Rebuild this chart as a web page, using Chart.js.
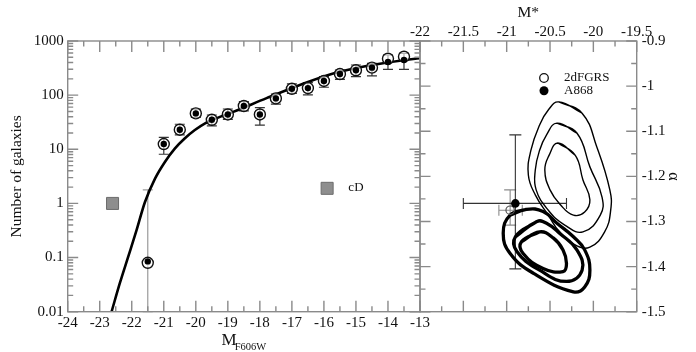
<!DOCTYPE html>
<html>
<head>
<meta charset="utf-8">
<script src="https://cdn.jsdelivr.net/npm/chart.js@4.4.1/dist/chart.umd.min.js"></script>
<style>
    html, body { margin: 0; padding: 0; background: #fff; }
    #wrap { position: relative; width: 696px; height: 352px; }
    canvas { position: absolute; left: 0; top: 0; }
</style>
</head>
<body>
<div id="wrap">
    <canvas id="lfChart" width="696" height="352"></canvas>
    <canvas id="paramChart" width="696" height="352"></canvas>
</div>
<script>
// ---- left panel: luminosity function ----
const magBins = [-21.5, -21, -20.5, -20, -19.5, -19, -18.5, -18, -17.5, -17, -16.5, -16, -15.5, -15, -14.5, -14, -13.5];
const countsOpen = [0.08, 12.5, 23, 46, 35, 44, 63, 44, 87, 131, 135, 183, 245, 288, 322, 470, 513];
const countsFilled = [0.085, 12.5, 23, 46, 35, 44, 63, 44, 87, 131, 135, 183, 245, 288, 322, 409, 445];
const errLow = [0.01, 8.1, 18.4, 38.6, 27, 35.8, 51, 28, 68.5, 108, 101, 140, 196, 219, 226, 300, 300];
const errHigh = [1.78, 16.6, 29, 55, 43, 55.5, 75.7, 58.6, 105, 161, 170, 219, 291, 360, 387, 551, 592];

const fitMag = [-22.63, -22.37, -22.11, -21.85, -21.59, -21.27, -20.96, -20.65, -20.34, -20.03, -19.71, -19.45, -18.83, -17.79, -16.75, -15.71, -14.67, -13.63, -13.0];
const fitCounts = [0.01, 0.034, 0.104, 0.32, 1.05, 2.9, 5.9, 10.4, 16.0, 22.7, 30.2, 35.5, 49, 88, 154, 251, 345, 433, 479];

const cdMag = [-22.6, -15.9];
const cdCounts = [1.0, 1.9];
const cdLabel = 'cD';
const cdLabelPos = [-15.0, 1.95];

const magTicks = [-24, -23, -22, -21, -20, -19, -18, -17, -16, -15, -14, -13];
const magMinor = [-23.5, -22.5, -21.5, -20.5, -19.5, -18.5, -17.5, -16.5, -15.5, -14.5, -13.5];
const countTicks = [0.01, 0.1, 1, 10, 100, 1000];
const countMinor = [];
[0.01, 0.1, 1, 10, 100].forEach(d => { for (let k = 2; k <= 9; k++) countMinor.push(d * k); });

// ---- right panel: M* / alpha confidence contours ----
const thinOuterM = [-20.40, -20.13, -19.96, -19.81, -19.80, -19.87, -20.04, -20.21, -20.39, -20.52, -20.67, -20.75, -20.72, -20.62, -20.52];
const thinOuterA = [-1.035, -1.060, -1.135, -1.230, -1.275, -1.323, -1.357, -1.352, -1.323, -1.286, -1.241, -1.197, -1.142, -1.086, -1.053];
const thinMidM = [-20.42, -20.19, -20.04, -19.90, -19.92, -20.12, -20.33, -20.52, -20.66, -20.67, -20.62, -20.54];
const thinMidA = [-1.082, -1.104, -1.179, -1.246, -1.286, -1.323, -1.308, -1.275, -1.230, -1.186, -1.142, -1.108];
const thinInnerM = [-20.41, -20.21, -20.12, -20.04, -20.10, -20.23, -20.38, -20.50, -20.56, -20.51];
const thinInnerA = [-1.126, -1.153, -1.208, -1.252, -1.279, -1.286, -1.263, -1.230, -1.186, -1.153];

const thickOuterM = [-20.77, -20.96, -21.04, -20.96, -20.69, -20.23, -20.10, -20.04, -20.10, -20.23, -20.42, -20.58];
const thickOuterA = [-1.273, -1.286, -1.326, -1.371, -1.415, -1.456, -1.445, -1.408, -1.363, -1.334, -1.304, -1.278];
const thickMidM = [-20.65, -20.90, -20.88, -20.62, -20.31, -20.13, -20.19, -20.39, -20.54];
const thickMidA = [-1.300, -1.334, -1.367, -1.408, -1.433, -1.408, -1.363, -1.326, -1.304];
const thickInnerM = [-20.62, -20.83, -20.81, -20.58, -20.35, -20.31, -20.35, -20.46];
const thickInnerA = [-1.323, -1.345, -1.371, -1.404, -1.411, -1.393, -1.363, -1.337];

const seriesNames = ['2dFGRS', 'A868'];
const fitMstar = [-20.96, -20.90];
const fitAlpha = [-1.275, -1.26];
const mstarErr = [[-21.09, -20.82], [-21.5, -20.31]];
const alphaErr = [[-1.23, -1.308], [-1.108, -1.405]];

const mstarTicks = [-22, -21.5, -21, -20.5, -20, -19.5];
const mstarMinor = [-21.75, -21.25, -20.75, -20.25, -19.75];
const alphaTicks = [-0.9, -1, -1.1, -1.2, -1.3, -1.4, -1.5];
const alphaMinor = [-0.95, -1.05, -1.15, -1.25, -1.35, -1.45];

// ---- styling ----
const FONT = "'Liberation Serif', 'Times New Roman', serif";
const TEXT = '#111';
const FRAME = '#8a8a8a';

const pts = (xs, ys) => xs.map((v, i) => ({ x: v, y: ys[i] }));
const loop = (xs, ys) => { const p = pts(xs, ys); return p.concat([p[0], p[1]]); };

function frameTicks(id, xMajor, xMinor, yMajor, yMinor) {
    return {
        id: id,
        afterDraw(chart) {
            const { ctx, chartArea: a } = chart;
            const xs = chart.scales.x, ys = chart.scales.y;
            ctx.save();
            ctx.strokeStyle = FRAME;
            ctx.lineWidth = 1.4;
            ctx.strokeRect(a.left, a.top, a.right - a.left, a.bottom - a.top);
            ctx.beginPath();
            const xt = (v, len) => {
                const p = xs.getPixelForValue(v);
                ctx.moveTo(p, a.bottom); ctx.lineTo(p, a.bottom - len);
                ctx.moveTo(p, a.top); ctx.lineTo(p, a.top + len);
            };
            const yt = (v, len) => {
                const p = ys.getPixelForValue(v);
                ctx.moveTo(a.left, p); ctx.lineTo(a.left + len, p);
                ctx.moveTo(a.right, p); ctx.lineTo(a.right - len, p);
            };
            xMajor.forEach(v => xt(v, 11));
            xMinor.forEach(v => xt(v, 5.5));
            yMajor.forEach(v => yt(v, 10.5));
            yMinor.forEach(v => yt(v, 5.5));
            ctx.stroke();
            ctx.restore();
        }
    };
}

function vBar(ctx, x, y1, y2, cap) {
    ctx.moveTo(x, y1); ctx.lineTo(x, y2);
    ctx.moveTo(x - cap, y1); ctx.lineTo(x + cap, y1);
    ctx.moveTo(x - cap, y2); ctx.lineTo(x + cap, y2);
}
function hBar(ctx, y, x1, x2, cap) {
    ctx.moveTo(x1, y); ctx.lineTo(x2, y);
    ctx.moveTo(x1, y - cap); ctx.lineTo(x1, y + cap);
    ctx.moveTo(x2, y - cap); ctx.lineTo(x2, y + cap);
}

const lfExtras = {
    id: 'lfExtras',
    beforeDatasetsDraw(chart) {
        const { ctx, scales: { x, y } } = chart;
        ctx.save();
        ctx.lineWidth = 1.2;
        magBins.forEach((m, i) => {
            ctx.strokeStyle = i === 0 ? '#9a9a9a' : '#333';
            ctx.beginPath();
            vBar(ctx, x.getPixelForValue(m), y.getPixelForValue(errLow[i]), y.getPixelForValue(errHigh[i]), 5);
            ctx.stroke();
        });
        ctx.restore();
    },
    afterDraw(chart) {
        const { ctx, chartArea: a, scales: { x, y } } = chart;
        ctx.save();
        ctx.fillStyle = TEXT;
        ctx.textBaseline = 'middle';
        ctx.textAlign = 'center';
        ctx.font = '13px ' + FONT;
        ctx.fillText(cdLabel, x.getPixelForValue(cdLabelPos[0]), y.getPixelForValue(cdLabelPos[1]));
        // axis title with subscript
        ctx.textBaseline = 'alphabetic';
        ctx.textAlign = 'left';
        ctx.font = '17px ' + FONT;
        const wM = ctx.measureText('M').width;
        ctx.font = '10.5px ' + FONT;
        const wS = ctx.measureText('F606W').width;
        const x0 = (a.left + a.right) / 2 - (wM + wS - 2) / 2;
        ctx.font = '17px ' + FONT;
        ctx.fillText('M', x0, a.bottom + 33.5);
        ctx.font = '10.5px ' + FONT;
        ctx.fillText('F606W', x0 + wM - 2, a.bottom + 38.5);
        ctx.restore();
    }
};

const paramExtras = {
    id: 'paramExtras',
    beforeDatasetsDraw(chart) {
        const { ctx, scales: { x, y } } = chart;
        ctx.save();
        ctx.lineWidth = 1.1;
        [0, 1].forEach(i => {
            ctx.strokeStyle = i === 0 ? '#8a8a8a' : '#333';
            ctx.beginPath();
            hBar(ctx, y.getPixelForValue(fitAlpha[i]), x.getPixelForValue(mstarErr[i][0]), x.getPixelForValue(mstarErr[i][1]), 5.5);
            vBar(ctx, x.getPixelForValue(fitMstar[i]), y.getPixelForValue(alphaErr[i][0]), y.getPixelForValue(alphaErr[i][1]), 6);
            ctx.stroke();
        });
        ctx.restore();
    },
    afterDraw(chart) {
        const { ctx, chartArea: a } = chart;
        ctx.save();
        const lx = a.left + 124, ly = a.top + 37;
        ctx.lineWidth = 1.3;
        ctx.strokeStyle = '#111';
        ctx.fillStyle = '#fff';
        ctx.beginPath(); ctx.arc(lx, ly, 4.3, 0, Math.PI * 2); ctx.fill(); ctx.stroke();
        ctx.fillStyle = '#000';
        ctx.beginPath(); ctx.arc(lx, ly + 12.7, 4.5, 0, Math.PI * 2); ctx.fill();
        ctx.fillStyle = TEXT;
        ctx.font = '13px ' + FONT;
        ctx.textBaseline = 'middle';
        ctx.fillText(seriesNames[0], lx + 20, ly);
        ctx.fillText(seriesNames[1], lx + 20, ly + 12.7);
        ctx.restore();
    }
};

const tickFont = { family: FONT, size: 15 };
const noGrid = { display: false, drawTicks: false };
const fixTicks = list => scale => { scale.ticks = list.map(v => ({ value: v })); };

const lfChart = new Chart(document.getElementById('lfChart'), {
    type: 'scatter',
    data: {
        datasets: [
            {
                label: 'filled',
                data: pts(magBins, countsFilled),
                pointRadius: 3.2,
                backgroundColor: '#000',
                borderWidth: 0
            },
            {
                label: 'open',
                data: pts(magBins, countsOpen),
                pointRadius: 5.5,
                backgroundColor: 'rgba(255,255,255,0.6)',
                borderColor: '#111',
                borderWidth: 1.4
            },
            {
                label: 'cD',
                data: pts(cdMag, cdCounts),
                pointStyle: 'rect',
                pointRadius: 8.5,
                backgroundColor: '#8e8e8e',
                borderColor: '#6c6c6c',
                borderWidth: 1
            },
            {
                label: 'fit',
                data: pts(fitMag, fitCounts),
                showLine: true,
                borderColor: '#000',
                borderWidth: 2.6,
                pointRadius: 0,
                cubicInterpolationMode: 'monotone'
            }
        ]
    },
    options: {
        responsive: false,
        animation: false,
        layout: { padding: { left: 0, right: 276, top: 41, bottom: 0 } },
        plugins: { legend: { display: false }, tooltip: { enabled: false } },
        scales: {
            x: {
                type: 'linear',
                position: 'bottom',
                min: -24,
                max: -13,
                afterBuildTicks: fixTicks(magTicks),
                afterFit: s => { s.height = 40.3; },
                grid: noGrid,
                border: { display: false },
                ticks: { font: tickFont, color: TEXT, padding: 2, maxRotation: 0, autoSkip: false, callback: v => String(v) }
            },
            y: {
                type: 'logarithmic',
                min: 0.01,
                max: 1000,
                afterBuildTicks: fixTicks(countTicks),
                afterFit: s => { s.width = 67.7; },
                grid: noGrid,
                border: { display: false },
                ticks: { font: tickFont, color: TEXT, padding: 4, autoSkip: false, callback: v => String(v) },
                title: {
                    display: true,
                    text: 'Number of galaxies',
                    font: { family: FONT, size: 15.5 },
                    color: TEXT,
                    padding: { top: 8, bottom: 0 }
                }
            }
        }
    },
    plugins: [lfExtras, frameTicks('lfFrame', magTicks, magMinor, countTicks, countMinor)]
});

const paramChart = new Chart(document.getElementById('paramChart'), {
    type: 'scatter',
    data: {
        datasets: [
            {
                label: seriesNames[1],
                data: [{ x: fitMstar[1], y: fitAlpha[1] }],
                pointRadius: 4.3,
                backgroundColor: '#000',
                borderWidth: 0
            },
            {
                label: seriesNames[0],
                data: [{ x: fitMstar[0], y: fitAlpha[0] }],
                pointRadius: 4.2,
                backgroundColor: 'rgba(255,255,255,0)',
                borderColor: '#555',
                borderWidth: 1.2
            },
            { label: 'thick3', data: loop(thickInnerM, thickInnerA), showLine: true, pointRadius: 0, borderColor: '#000', borderWidth: 3.3, tension: 0.45 },
            { label: 'thick2', data: loop(thickMidM, thickMidA), showLine: true, pointRadius: 0, borderColor: '#000', borderWidth: 3.3, tension: 0.45 },
            { label: 'thick1', data: loop(thickOuterM, thickOuterA), showLine: true, pointRadius: 0, borderColor: '#000', borderWidth: 3.3, tension: 0.45 },
            { label: 'thin3', data: loop(thinInnerM, thinInnerA), showLine: true, pointRadius: 0, borderColor: '#000', borderWidth: 1.4, tension: 0.45 },
            { label: 'thin2', data: loop(thinMidM, thinMidA), showLine: true, pointRadius: 0, borderColor: '#000', borderWidth: 1.4, tension: 0.45 },
            { label: 'thin1', data: loop(thinOuterM, thinOuterA), showLine: true, pointRadius: 0, borderColor: '#000', borderWidth: 1.4, tension: 0.45 }
        ]
    },
    options: {
        responsive: false,
        animation: false,
        layout: { padding: { left: 420, right: 0, top: 0, bottom: 40.3 } },
        plugins: { legend: { display: false }, tooltip: { enabled: false } },
        scales: {
            x: {
                type: 'linear',
                position: 'top',
                min: -22,
                max: -19.5,
                afterBuildTicks: fixTicks(mstarTicks),
                afterFit: s => { s.height = 41; },
                grid: noGrid,
                border: { display: false },
                ticks: { font: tickFont, color: TEXT, padding: 0, maxRotation: 0, autoSkip: false, callback: v => String(v) },
                title: {
                    display: true,
                    text: 'M*',
                    font: { family: FONT, size: 15.5 },
                    color: TEXT,
                    padding: { top: 4, bottom: 0 }
                }
            },
            y: {
                type: 'linear',
                position: 'right',
                min: -1.5,
                max: -0.9,
                afterBuildTicks: fixTicks(alphaTicks),
                afterFit: s => { s.width = 59.3; },
                grid: noGrid,
                border: { display: false },
                ticks: { font: tickFont, color: TEXT, padding: 5, autoSkip: false, callback: v => String(v) },
                title: {
                    display: true,
                    text: 'α',
                    font: { family: FONT, size: 16 },
                    color: TEXT,
                    padding: { top: 13, bottom: 0 }
                }
            }
        }
    },
    plugins: [paramExtras, frameTicks('paramFrame', mstarTicks, mstarMinor, alphaTicks, alphaMinor)]
});
</script>
</body>
</html>
